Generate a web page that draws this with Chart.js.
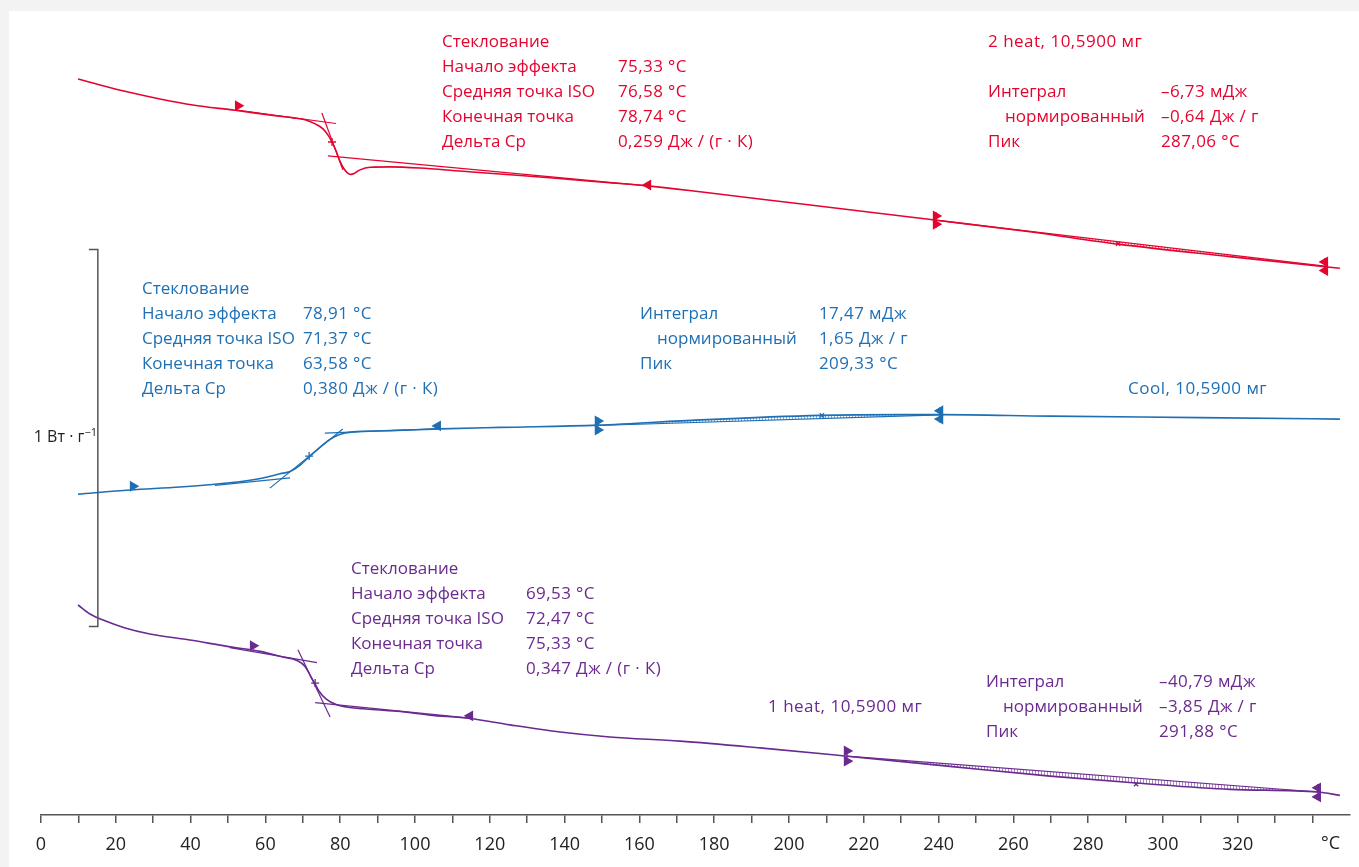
<!DOCTYPE html>
<html lang="ru">
<head>
<meta charset="utf-8">
<title>ДСК</title>
<script src="https://cdn.jsdelivr.net/npm/chart.js@4.4.1/dist/chart.umd.min.js"></script>
<style>
  body { margin: 0; width: 1359px; height: 867px; overflow: hidden; background: #f3f3f3; font-family: "Open Sans", sans-serif; }
  #panel { position: absolute; left: 9px; top: 11px; width: 1350px; height: 856px; background: #fff; }
  .t { position: absolute; font-size: 17px; line-height: 25px; white-space: nowrap; }
  .v { letter-spacing: 0.4px; }
  .ind { padding-left: 17px; }
  .red { color: #e30530; }
  .blue { color: #1f6fb4; }
  .purple { color: #6a2a8f; }
  .ax { color: #222; }
</style>
</head>
<body>
<div id="panel"><canvas id="dsc"></canvas></div>

<!-- 2 heat -->
<div class="t red" style="left:442px;top:28px">Стеклование<br>Начало эффекта<br>Средняя точка ISO<br>Конечная точка<br>Дельта Cp</div>
<div class="t red v" style="left:618px;top:28px"><br>75,33 °C<br>76,58 °C<br>78,74 °C<br>0,259 Дж / (г · К)</div>
<div class="t red" style="left:988px;top:28px;letter-spacing:0.5px">2 heat, 10,5900 мг</div>
<div class="t red" style="left:988px;top:78px">Интеграл<br><span class="ind">нормированный</span><br>Пик</div>
<div class="t red v" style="left:1161px;top:78px">–6,73 мДж<br>–0,64 Дж / г<br>287,06 °C</div>

<!-- Cool -->
<div class="t blue" style="left:142px;top:275px">Стеклование<br>Начало эффекта<br>Средняя точка ISO<br>Конечная точка<br>Дельта Cp</div>
<div class="t blue v" style="left:303px;top:275px"><br>78,91 °C<br>71,37 °C<br>63,58 °C<br>0,380 Дж / (г · К)</div>
<div class="t blue" style="left:640px;top:300px">Интеграл<br><span class="ind">нормированный</span><br>Пик</div>
<div class="t blue v" style="left:819px;top:300px">17,47 мДж<br>1,65 Дж / г<br>209,33 °C</div>
<div class="t blue" style="left:1128px;top:375px;letter-spacing:0.5px">Cool, 10,5900 мг</div>

<!-- 1 heat -->
<div class="t purple" style="left:351px;top:555px">Стеклование<br>Начало эффекта<br>Средняя точка ISO<br>Конечная точка<br>Дельта Cp</div>
<div class="t purple v" style="left:526px;top:555px"><br>69,53 °C<br>72,47 °C<br>75,33 °C<br>0,347 Дж / (г · К)</div>
<div class="t purple" style="left:768px;top:693px;letter-spacing:0.5px">1 heat, 10,5900 мг</div>
<div class="t purple" style="left:986px;top:668px">Интеграл<br><span class="ind">нормированный</span><br>Пик</div>
<div class="t purple v" style="left:1159px;top:668px">–40,79 мДж<br>–3,85 Дж / г<br>291,88 °C</div>

<div class="t ax" style="left:0;width:97px;text-align:right;top:424px;font-size:16px">1 Вт · г<sup style="font-size:11px;vertical-align:6px;line-height:0">−1</sup></div>
<div class="t ax" style="left:1321px;top:830px;font-size:18px">°C</div>

<script>
// температура, °C
const tempTicks = [0, 10, 20, 30, 40, 50, 60, 70, 80, 90, 100, 110, 120, 130, 140, 150, 160, 170,
  180, 190, 200, 210, 220, 230, 240, 250, 260, 270, 280, 290, 300, 310, 320, 330, 340];
const tempLabels = [0, 20, 40, 60, 80, 100, 120, 140, 160, 180, 200, 220, 240, 260, 280, 300, 320];

// тепловой поток, Вт/г (смещение кривых произвольное)
// 2 heat
const heat2T = [9.9, 15.8, 23.0, 31.8, 40.6, 51.9, 63.1, 67.4, 70.6, 73.3, 75.4, 76.7, 77.8, 78.9, 79.9,
  81.0, 82.1, 82.9, 84.0, 85.3, 88.0, 93.3, 101.3, 112.0, 122.7, 136.1, 149.5, 162.8, 176.2, 202.9,
  239.0, 264.4, 288.0, 317.9, 343.3, 347.3];
const heat2Y = [1.952, 1.936, 1.918, 1.899, 1.883, 1.869, 1.854, 1.849, 1.844, 1.833, 1.820, 1.804, 1.785,
  1.761, 1.735, 1.714, 1.702, 1.699, 1.703, 1.711, 1.718, 1.719, 1.716, 1.708, 1.700, 1.690, 1.679,
  1.668, 1.653, 1.621, 1.578, 1.547, 1.514, 1.481, 1.454, 1.450];
const heat2TanT = [[51.9, 78.9], [75.1, 80.7], [76.7, 162.8]];
const heat2TanY = [[1.870, 1.834], [1.862, 1.711], [1.748, 1.668]];
const heat2BaseT = [239.0, 343.3];
const heat2BaseY = [1.578, 1.456];
const heat2MarkT = [52.7, 162.3, 239.3, 239.3, 239.3, 288.0, 343.3, 343.3, 343.3, 77.8];
const heat2MarkY = [1.881, 1.671, 1.589, 1.567, 1.578, 1.515, 1.467, 1.444, 1.456, 1.785];
const heat2MarkKind = ["start", "end", "limR", "limR", "stick", "peak", "limL", "limL", "stick", "mid"];

// Cool
const coolT = [9.9, 23.8, 37.2, 50.5, 59.4, 63.9, 66.6, 69.3, 71.7, 74.1, 76.5, 78.6, 81.3, 84.5, 95.2,
  106.7, 122.7, 148.9, 176.2, 208.3, 229.7, 240.4, 269.8, 309.9, 347.3];
const coolY = [0.851, 0.862, 0.870, 0.881, 0.894, 0.905, 0.911, 0.928, 0.950, 0.971, 0.991, 1.004, 1.013,
  1.017, 1.020, 1.024, 1.028, 1.034, 1.048, 1.060, 1.062, 1.062, 1.058, 1.054, 1.050];
const coolTanT = [[46.5, 66.6], [61.2, 80.7], [75.9, 106.7]];
const coolTanY = [[0.874, 0.894], [0.867, 1.024], [1.013, 1.025]];
const coolBaseT = [148.9, 240.4];
const coolBaseY = [1.033, 1.061];
const coolMarkT = [24.6, 106.1, 148.9, 148.9, 148.9, 208.8, 240.4, 240.4, 240.4, 71.7];
const coolMarkY = [0.872, 1.032, 1.045, 1.021, 1.033, 1.060, 1.072, 1.050, 1.061, 0.952];
const coolMarkKind = ["start", "end", "limR", "limR", "stick", "peak", "limL", "limL", "stick", "mid"];

// 1 heat
const heat1T = [9.9, 13.1, 17.1, 22.5, 29.1, 39.8, 50.5, 58.6, 64.7, 68.4, 70.6, 72.2, 73.3, 74.3, 76.2,
  78.9, 82.6, 86.1, 95.2, 104.0, 114.7, 125.4, 138.8, 152.1, 170.9, 192.2, 215.5, 243.0, 269.8, 292.8,
  317.9, 341.4, 347.3];
const heat1Y = [0.557, 0.533, 0.515, 0.496, 0.480, 0.464, 0.446, 0.434, 0.419, 0.410, 0.394, 0.366, 0.347,
  0.329, 0.308, 0.293, 0.285, 0.282, 0.275, 0.265, 0.256, 0.239, 0.220, 0.207, 0.196, 0.178, 0.156,
  0.129, 0.103, 0.085, 0.068, 0.061, 0.052];
const heat1TanT = [[50.5, 73.8], [68.7, 77.3], [73.3, 114.7]];
const heat1TanY = [[0.444, 0.404], [0.438, 0.260], [0.298, 0.257]];
const heat1BaseT = [215.5, 341.4];
const heat1BaseY = [0.156, 0.061];
const heat1MarkT = [56.7, 114.7, 215.5, 215.5, 215.5, 292.8, 341.4, 341.4, 341.4, 73.3];
const heat1MarkY = [0.449, 0.263, 0.170, 0.143, 0.156, 0.082, 0.072, 0.048, 0.061, 0.350];
const heat1MarkKind = ["start", "end", "limR", "limR", "stick", "peak", "limL", "limL", "stick", "mid"];

// масштаб 1 Вт/г
const scaleBarT = 15.2;
const scaleBarY = [0.5, 1.5];

const RED = "#e30530";
const BLUE = "#1f6fb4";
const PURPLE = "#6a2a8f";
const AXIS = "#555";

const pts = (T, Y) => T.map((t, i) => ({ x: t, y: Y[i] }));

function curve(T, Y, color) {
  return { data: pts(T, Y), borderColor: color, borderWidth: 1.6, pointRadius: 0, cubicInterpolationMode: "monotone", fill: false };
}

function straight(T, Y, color) {
  return { data: pts(T, Y), borderColor: color, borderWidth: 1.2, pointRadius: 0, tension: 0, fill: false };
}

const markStyle = {
  start: { style: "triangle", rot: 90, r: 5 },
  end: { style: "triangle", rot: -90, r: 5 },
  limR: { style: "triangle", rot: 90, r: 5 },
  limL: { style: "triangle", rot: -90, r: 5 },
  stick: { style: "line", rot: 90, r: 8 },
  peak: { style: "crossRot", rot: 0, r: 3 },
  mid: { style: "cross", rot: 0, r: 4 },
};

function markers(T, Y, kinds, color) {
  return {
    data: pts(T, Y),
    showLine: false,
    borderColor: color,
    backgroundColor: color,
    borderWidth: 1.3,
    pointStyle: kinds.map((k) => markStyle[k].style),
    pointRotation: kinds.map((k) => markStyle[k].rot),
    pointRadius: kinds.map((k) => markStyle[k].r),
  };
}

function series(T, Y, tanT, tanY, baseT, baseY, markT, markY, kinds, color) {
  const list = [curve(T, Y, color)];
  tanT.forEach((t, i) => list.push(straight(t, tanY[i], color)));
  const base = straight(baseT, baseY, color);
  base.hatchOf = 0;
  list.push(base);
  list.push(markers(markT, markY, kinds, color));
  return list;
}

const groups = [
  series(heat2T, heat2Y, heat2TanT, heat2TanY, heat2BaseT, heat2BaseY, heat2MarkT, heat2MarkY, heat2MarkKind, RED),
  series(coolT, coolY, coolTanT, coolTanY, coolBaseT, coolBaseY, coolMarkT, coolMarkY, coolMarkKind, BLUE),
  series(heat1T, heat1Y, heat1TanT, heat1TanY, heat1BaseT, heat1BaseY, heat1MarkT, heat1MarkY, heat1MarkKind, PURPLE),
];

const datasets = [];
groups.forEach((g) => {
  const first = datasets.length;
  g.forEach((ds) => {
    if (ds.hatchOf !== undefined) ds.hatchOf = first;
    datasets.push(ds);
  });
});

// штриховка площади пика между кривой и базовой линией
function hatchPattern(ctx, color) {
  const c = document.createElement("canvas");
  c.width = 3;
  c.height = 3;
  const g = c.getContext("2d");
  g.fillStyle = color;
  g.fillRect(0, 0, 1, 3);
  return ctx.createPattern(c, "repeat");
}

const hatchPlugin = {
  id: "hatch",
  beforeDatasetsDraw(chart) {
    const ctx = chart.ctx;
    chart.data.datasets.forEach((ds, i) => {
      if (ds.hatchOf === undefined) return;
      const base = chart.getDatasetMeta(i).data;
      const cur = chart.getDatasetMeta(ds.hatchOf).data;
      const x0 = base[0].x;
      const x1 = base[base.length - 1].x;
      const inside = cur.filter((p) => p.x >= x0 && p.x <= x1);
      ctx.save();
      ctx.globalAlpha = 0.55;
      ctx.fillStyle = hatchPattern(ctx, ds.borderColor);
      ctx.beginPath();
      ctx.moveTo(base[0].x, base[0].y);
      inside.forEach((p) => ctx.lineTo(p.x, p.y));
      ctx.lineTo(base[base.length - 1].x, base[base.length - 1].y);
      ctx.closePath();
      ctx.fill();
      ctx.restore();
    });
  },
};

const scaleBarPlugin = {
  id: "scaleBar",
  afterDraw(chart) {
    const { ctx, scales } = chart;
    const x = scales.x.getPixelForValue(scaleBarT);
    const y0 = scales.y.getPixelForValue(scaleBarY[0]);
    const y1 = scales.y.getPixelForValue(scaleBarY[1]);
    ctx.save();
    ctx.strokeStyle = AXIS;
    ctx.lineWidth = 1.5;
    ctx.beginPath();
    ctx.moveTo(x - 9, y1);
    ctx.lineTo(x, y1);
    ctx.lineTo(x, y0);
    ctx.lineTo(x - 9, y0);
    ctx.stroke();
    ctx.restore();
  },
};

new Chart(document.getElementById("dsc"), {
  type: "line",
  data: { datasets },
  plugins: [hatchPlugin, scaleBarPlugin],
  options: {
    responsive: true,
    maintainAspectRatio: false,
    animation: false,
    layout: { padding: { left: 32, right: 9, top: 0, bottom: 0 } },
    plugins: { legend: { display: false }, tooltip: { enabled: false } },
    scales: {
      x: {
        type: "linear",
        min: 0,
        max: 350,
        afterBuildTicks: (axis) => { axis.ticks = tempTicks.map((v) => ({ value: v })); },
        afterFit: (axis) => { axis.height = 52; },
        ticks: {
          autoSkip: false,
          maxRotation: 0,
          padding: 11,
          color: "#222",
          font: { family: "Open Sans", size: 18 },
          callback: (v) => (tempLabels.includes(v) ? String(v) : ""),
        },
        grid: { drawOnChartArea: false, drawTicks: true, tickLength: 8, color: AXIS, lineWidth: 1.5 },
        border: { display: true, color: AXIS, width: 1.5 },
      },
      y: { type: "linear", display: false, min: 0, max: 2.1157 },
    },
  },
});
</script>
</body>
</html>
